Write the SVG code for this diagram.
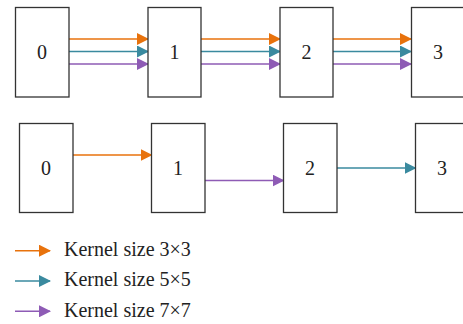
<svg xmlns="http://www.w3.org/2000/svg" width="463" height="324" viewBox="0 0 463 324">
<style>
.box{fill:#fff;stroke:#333;stroke-width:1.3}
.lbl{font-family:"Liberation Serif",serif;font-size:20px;fill:#222;text-anchor:middle}
.leg{font-family:"Liberation Serif",serif;font-size:20px;fill:#222}
.o{stroke:#e8720c;stroke-width:1.5;fill:none}
.t{stroke:#3a8a9f;stroke-width:1.5;fill:none}
.p{stroke:#8e5bb5;stroke-width:1.5;fill:none}
</style>
<defs>
<marker id="mo" markerWidth="12" markerHeight="12" refX="11" refY="6" orient="auto" markerUnits="userSpaceOnUse"><path d="M0,0 L12,6 L0,12 Z" fill="#e8720c"/></marker>
<marker id="mt" markerWidth="12" markerHeight="12" refX="11" refY="6" orient="auto" markerUnits="userSpaceOnUse"><path d="M0,0 L12,6 L0,12 Z" fill="#3a8a9f"/></marker>
<marker id="mp" markerWidth="12" markerHeight="12" refX="11" refY="6" orient="auto" markerUnits="userSpaceOnUse"><path d="M0,0 L12,6 L0,12 Z" fill="#8e5bb5"/></marker>
</defs>
<g id="connectors">
<line class="o" x1="69" y1="39" x2="148" y2="39" marker-end="url(#mo)"/>
<line class="t" x1="69" y1="51.5" x2="148" y2="51.5" marker-end="url(#mt)"/>
<line class="p" x1="69" y1="64" x2="148" y2="64" marker-end="url(#mp)"/>
<line class="o" x1="201" y1="39" x2="280" y2="39" marker-end="url(#mo)"/>
<line class="t" x1="201" y1="51.5" x2="280" y2="51.5" marker-end="url(#mt)"/>
<line class="p" x1="201" y1="64" x2="280" y2="64" marker-end="url(#mp)"/>
<line class="o" x1="333" y1="39" x2="411" y2="39" marker-end="url(#mo)"/>
<line class="t" x1="333" y1="51.5" x2="411" y2="51.5" marker-end="url(#mt)"/>
<line class="p" x1="333" y1="64" x2="411" y2="64" marker-end="url(#mp)"/>
<line class="o" x1="73" y1="155" x2="151.5" y2="155" marker-end="url(#mo)"/>
<line class="p" x1="205" y1="180.5" x2="283.5" y2="180.5" marker-end="url(#mp)"/>
<line class="t" x1="337" y1="168" x2="415.5" y2="168" marker-end="url(#mt)"/>
</g>
<g id="top0"><rect class="box" x="15.5" y="7.5" width="53.5" height="89.5"/><text class="lbl" x="42" y="59">0</text></g>
<g id="top1"><rect class="box" x="148" y="7.5" width="53" height="89.5"/><text class="lbl" x="174.5" y="59">1</text></g>
<g id="top2"><rect class="box" x="280" y="7.5" width="53" height="89.5"/><text class="lbl" x="306.5" y="59">2</text></g>
<g id="top3"><rect class="box" x="411.5" y="7.5" width="53" height="89.5"/><text class="lbl" x="438" y="59">3</text></g>
<g id="bot0"><rect class="box" x="19.5" y="123.5" width="53.5" height="89"/><text class="lbl" x="46" y="175">0</text></g>
<g id="bot1"><rect class="box" x="151.5" y="123.5" width="53.5" height="89"/><text class="lbl" x="178" y="175">1</text></g>
<g id="bot2"><rect class="box" x="283.5" y="123.5" width="53.5" height="89"/><text class="lbl" x="310" y="175">2</text></g>
<g id="bot3"><rect class="box" x="415.5" y="123.5" width="53.5" height="89"/><text class="lbl" x="442" y="175">3</text></g>
<g id="legend">
<line class="o" x1="15" y1="250.7" x2="50" y2="250.7" marker-end="url(#mo)"/>
<line class="t" x1="15" y1="281" x2="50" y2="281" marker-end="url(#mt)"/>
<line class="p" x1="15" y1="311.3" x2="50" y2="311.3" marker-end="url(#mp)"/>
<text class="leg" x="64" y="256">Kernel size 3×3</text>
<text class="leg" x="64" y="286.3">Kernel size 5×5</text>
<text class="leg" x="64" y="316.6">Kernel size 7×7</text>
</g>
</svg>
